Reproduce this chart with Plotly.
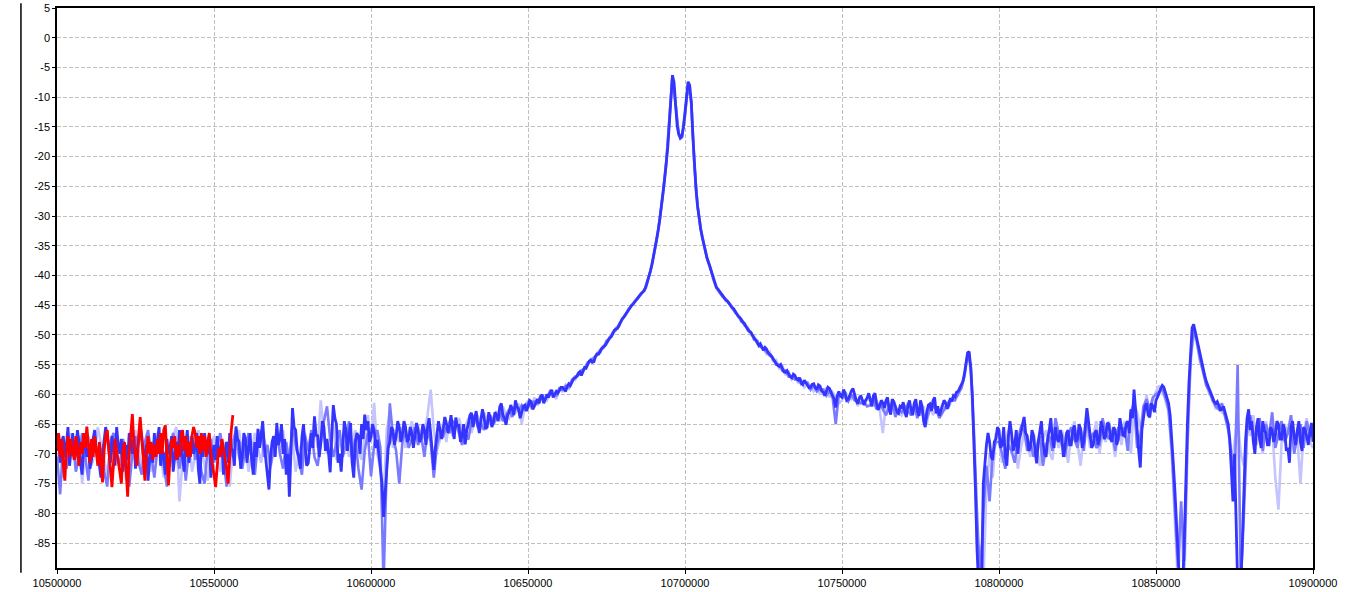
import plotly.graph_objects as go

# ---------------- data ----------------
F_START = 10500000
DARK_STEP = 500        # Hz between samples of the dark (latest) blue sweep
OLD_STEP = 1000        # Hz between samples of the older blue sweeps
RED_STEP = 500         # Hz between samples of the red sweep

x_ticks = [10500000, 10550000, 10600000, 10650000, 10700000,
           10750000, 10800000, 10850000, 10900000]
y_ticks = [5, 0, -5, -10, -15, -20, -25, -30, -35, -40, -45,
           -50, -55, -60, -65, -70, -75, -80, -85]

dark_db = [
    -69.0, -66.5, -71.5, -68.0, -67.0, -70.5, -68.5, -65.5, -72.0, -69.0, -66.5, -71.0, -70.0, -66.0, -68.0, -71.5, -73.5, -68.5, -67.5, -70.5,
    -69.0, -72.5, -71.0, -67.5, -66.0, -69.5, -70.5, -72.0, -74.0, -70.0, -68.0, -65.5, -67.0, -69.5, -71.5, -67.0, -69.0, -72.0, -65.5, -68.5,
    -70.0, -67.5, -73.0, -70.5, -68.5, -71.0, -66.5, -68.0, -70.0, -67.0, -72.5, -69.5, -68.0, -65.5, -67.0, -70.0, -71.0, -68.5, -74.5, -71.0,
    -69.0, -71.5, -66.5, -70.0, -68.0, -65.5, -72.0, -69.5, -70.0, -73.5, -67.5, -70.0, -69.5, -67.0, -73.0, -70.5, -68.0, -71.0, -66.0, -68.5,
    -70.5, -73.0, -68.5, -66.0, -71.5, -69.0, -67.0, -70.0, -69.0, -66.5, -72.5, -75.0, -68.0, -70.5, -66.5, -69.0, -70.0, -67.5, -74.0, -70.5,
    -68.5, -71.0, -67.0, -69.5, -70.5, -67.5, -73.5, -70.0, -68.0, -71.5, -66.5, -69.0, -69.5, -72.0, -65.4, -67.5, -68.0, -72.5, -70.5, -66.5,
    -67.5, -71.5, -69.3, -66.5, -71.0, -73.5, -68.0, -70.5, -65.8, -69.0, -67.0, -64.5, -68.4, -71.0, -74.0, -76.0, -70.5, -68.0, -67.0, -70.5,
    -64.8, -68.5, -67.5, -65.0, -70.0, -67.5, -73.5, -70.0, -77.2, -70.0, -62.3, -65.5, -66.0, -69.5, -70.5, -72.5, -67.2, -65.0, -69.0, -72.0,
    -71.6, -68.5, -66.5, -69.0, -63.7, -67.0, -66.8, -70.5, -68.2, -64.5, -65.4, -69.5, -67.5, -70.0, -73.1, -67.0, -61.8, -64.0, -65.0, -71.5,
    -70.0, -73.0, -68.8, -64.5, -66.0, -69.5, -67.0, -64.8, -71.5, -74.0, -68.0, -66.5, -67.0, -70.0, -65.0, -67.5, -63.4, -66.0, -64.5, -68.0,
    -67.1, -65.0, -66.0, -69.0, -67.6, -70.0, -71.5, -75.0, -80.6, -76.0, -71.5, -69.0, -68.0, -65.5, -66.0, -68.5, -67.0, -64.5, -65.5, -68.0,
    -66.8, -64.5, -65.5, -68.0, -67.6, -65.5, -66.5, -69.0, -67.0, -64.8, -66.0, -68.0, -67.2, -65.0, -66.0, -68.5, -65.5, -64.0, -66.5, -69.0,
    -72.7, -69.0, -67.0, -64.5, -66.0, -67.5, -65.8, -63.8, -64.8, -66.5, -65.1, -63.5, -66.0, -67.5, -63.9, -65.5, -65.0, -68.0, -67.0, -65.0,
    -68.4, -66.0, -65.0, -63.5, -63.1, -65.5, -64.0, -62.8, -65.0, -66.5, -64.2, -62.5, -63.9, -65.8, -65.5, -63.0, -64.0, -65.5, -64.6, -63.0,
    -63.5, -64.5, -62.1, -61.5, -63.5, -64.0, -65.1, -63.5, -63.0, -61.8, -62.5, -63.5, -61.0, -62.0, -62.5, -64.0, -63.0, -62.0, -61.8, -62.8,
    -62.1, -61.0, -61.2, -62.5, -62.0, -61.2, -60.8, -61.5, -60.5, -60.0, -61.5, -60.8, -60.0, -60.5, -59.7, -59.2, -60.5, -60.0, -59.5, -59.8,
    -59.4, -58.8, -58.8, -59.2, -59.5, -58.6, -58.2, -58.5, -58.0, -57.4, -57.2, -57.0, -56.5, -56.2, -56.8, -56.0, -55.5, -55.6, -55.0, -54.4,
    -54.2, -54.6, -54.5, -53.6, -53.2, -53.2, -52.8, -52.2, -52.0, -51.8, -51.4, -50.8, -50.5, -50.3, -49.8, -49.2, -49.0, -48.9, -48.4, -47.8,
    -47.3, -47.0, -46.6, -46.1, -45.8, -45.3, -45.0, -44.8, -44.4, -44.0, -43.8, -43.4, -43.1, -42.8, -42.5, -42.0, -41.2, -40.3, -39.2, -38.1,
    -36.8, -35.4, -33.9, -32.3, -30.4, -28.5, -26.2, -23.8, -21.2, -18.5, -14.5, -10.5, -6.3, -7.5, -11.2, -14.8, -16.2, -16.9, -16.6, -15.0,
    -12.5, -9.8, -7.4, -8.0, -10.8, -16.5, -21.5, -25.5, -28.3, -30.5, -32.2, -33.6, -34.8, -36.0, -37.0, -37.8, -38.6, -39.6, -40.5, -41.3,
    -42.0, -42.3, -42.7, -43.0, -43.4, -43.8, -44.1, -44.3, -44.6, -45.0, -45.4, -45.6, -46.0, -46.5, -46.9, -47.1, -47.5, -47.9, -48.2, -48.5,
    -48.9, -49.4, -49.6, -50.1, -50.5, -50.8, -51.2, -51.8, -51.5, -52.1, -52.6, -52.1, -52.4, -53.0, -53.2, -53.5, -54.0, -54.4, -54.6, -55.1,
    -55.3, -55.0, -55.6, -56.2, -56.3, -56.0, -56.5, -57.0, -57.2, -56.6, -56.8, -57.4, -57.6, -57.2, -58.0, -58.3, -57.6, -58.0, -58.4, -58.9,
    -58.8, -58.3, -58.2, -58.9, -59.2, -58.4, -58.6, -59.4, -59.6, -60.2, -59.5, -58.8, -59.0, -59.6, -60.0, -60.8, -62.2, -60.2, -59.5, -60.3,
    -60.5, -59.2, -59.8, -61.0, -60.8, -60.0, -59.4, -59.0, -60.2, -61.0, -61.6, -60.6, -60.2, -61.0, -61.8, -61.0, -60.6, -59.8, -61.2, -62.0,
    -60.2, -59.8, -61.5, -62.6, -62.0, -61.0, -61.4, -62.3, -61.0, -60.5, -62.5, -63.4, -60.8, -61.2, -62.0, -63.0, -63.2, -62.0, -62.2, -61.3,
    -63.0, -63.8, -61.8, -61.0, -62.6, -63.5, -61.5, -60.8, -62.8, -63.6, -61.0, -62.0, -64.5, -65.5, -63.0, -61.8, -61.6, -62.8, -61.0, -60.5,
    -63.2, -62.0, -63.6, -62.8, -62.0, -61.0, -61.4, -62.4, -61.8, -60.6, -61.2, -60.2, -60.4, -59.6, -59.5, -59.0, -58.5, -57.8, -56.5, -54.8,
    -53.0, -52.8, -55.5, -60.0, -67.0, -76.0, -86.0, -92.0, -92.0, -92.0, -75.0, -71.0, -68.5, -66.5, -68.0, -70.5, -71.0, -68.0, -67.5, -65.5,
    -66.0, -69.0, -68.5, -65.5, -70.5, -72.0, -67.0, -64.5, -66.5, -69.5, -68.5, -66.0, -70.0, -67.5, -66.5, -65.0, -63.8, -66.5, -67.0, -69.5,
    -69.0, -66.0, -67.0, -69.5, -71.6, -68.0, -66.5, -64.5, -68.0, -70.0, -70.5, -67.5, -66.0, -64.0, -67.5, -69.0, -65.5, -67.5, -68.0, -66.0,
    -67.0, -70.5, -69.0, -66.5, -66.0, -68.5, -68.5, -66.0, -65.2, -68.0, -67.5, -65.0, -66.0, -69.0, -68.0, -65.0, -62.3, -64.5, -66.5, -69.0,
    -68.5, -66.5, -66.0, -68.5, -67.5, -64.5, -65.5, -67.5, -67.0, -64.8, -65.0, -67.5, -68.0, -65.5, -66.0, -68.5, -67.5, -64.0, -65.5, -66.8,
    -67.0, -65.0, -64.5, -66.5, -62.5, -64.0, -59.2, -62.0, -66.0, -69.5, -72.3, -66.0, -63.5, -62.0, -61.5, -63.5, -63.8, -61.5, -62.0, -63.0,
    -61.0, -60.5, -59.8, -59.0, -58.5, -58.8, -59.6, -60.5, -61.5, -63.5, -67.0, -71.5, -76.0, -81.0, -86.0, -92.0, -92.0, -92.0, -85.0, -74.0,
    -65.0, -58.0, -52.0, -48.8, -48.2, -49.5, -50.8, -52.2, -53.5, -54.8, -55.8, -56.8, -57.8, -58.4, -59.0, -59.8, -60.5, -61.2, -61.5, -61.2,
    -61.8, -62.6, -62.5, -62.0, -63.0, -64.0, -65.0, -67.5, -74.0, -78.0, -70.0, -80.0, -92.0, -92.0, -92.0, -85.0, -76.0, -68.0, -64.0, -62.5,
    -66.0, -64.5, -68.0, -70.0, -65.5, -64.0, -67.5, -69.0, -64.5, -66.0, -66.5, -68.5, -68.5, -65.5, -66.0, -68.0, -67.0, -64.5, -65.0, -67.5,
    -67.5, -65.0, -66.0, -69.5, -69.0, -71.5, -65.5, -64.5, -67.0, -68.5, -66.0, -64.5, -68.0, -69.5, -65.5, -66.0, -67.0, -68.5, -66.5, -64.8,
    -68.0,
]

medium_db = [
    -70.5, -76.8, -68.0, -72.5, -69.0, -67.5, -73.0, -70.5, -66.5, -71.0,
    -74.5, -68.5, -67.0, -71.5, -69.0, -73.0, -75.5, -68.0, -66.5, -70.0,
    -72.0, -67.5, -69.5, -75.5, -70.0, -67.0, -71.5, -73.5, -68.0, -66.0,
    -70.5, -74.0, -69.0, -67.5, -72.0, -75.5, -68.5, -66.5, -70.0, -72.5,
    -68.0, -74.5, -69.5, -67.0, -71.0, -68.5, -73.0, -75.0, -69.0, -67.5,
    -71.5, -69.0, -66.5, -70.5, -75.5, -71.0, -68.0, -66.0, -70.5, -72.5,
    -69.0, -66.5, -71.0, -73.5, -68.0, -66.0, -70.5, -68.5, -72.0, -69.5,
    -66.0, -70.0, -72.5, -68.0, -71.5, -65.0, -68.5, -71.0, -73.5, -67.0,
    -69.5, -66.0, -70.5, -72.0, -68.0, -64.5, -62.0, -67.5, -70.5, -68.0,
    -66.0, -70.5, -68.5, -64.5, -71.0, -67.5, -72.5, -76.0, -69.5, -66.5,
    -73.8, -68.5, -66.0, -69.0, -92.0, -72.0, -61.5, -67.0, -69.5, -75.0,
    -68.0, -66.0, -69.0, -67.5, -65.5, -68.5, -67.0, -70.5, -66.0, -68.0,
    -74.0, -68.5, -66.5, -67.0, -65.5, -66.5, -64.5, -65.0, -66.5, -68.5,
    -66.5, -67.6, -64.5, -63.5, -65.5, -64.8, -66.0, -64.5, -63.5, -65.0,
    -64.0, -63.0, -64.5, -63.5, -62.5, -63.8, -62.0, -62.8, -61.8, -62.5,
    -61.5, -62.0, -61.2, -61.5, -60.2, -61.0, -60.5, -59.5, -60.0, -60.2,
    -59.0, -59.2, -58.6, -58.8, -57.6, -57.0, -56.8, -56.0, -55.6, -54.6,
    -54.5, -53.8, -53.4, -52.5, -52.2, -51.0, -50.6, -49.6, -49.2, -48.2,
    -47.4, -46.5, -45.9, -45.1, -44.3, -43.9, -43.0, -42.6, -41.1, -39.3,
    -36.7, -34.0, -30.3, -26.3, -21.1, -14.3, -6.5, -11.3, -16.1, -16.8,
    -13.1, -7.6, -10.9, -21.4, -28.4, -32.1, -34.9, -37.1, -38.5, -40.6,
    -42.1, -42.8, -43.6, -44.0, -44.8, -45.6, -46.2, -46.8, -47.8, -48.0,
    -49.2, -49.5, -50.8, -51.0, -52.0, -52.3, -53.0, -53.5, -53.8, -55.0,
    -55.0, -56.0, -56.0, -57.0, -57.0, -57.5, -57.3, -58.3, -58.0, -58.0,
    -59.2, -58.5, -59.5, -59.0, -59.2, -60.2, -59.4, -60.5, -65.0, -60.0,
    -60.0, -60.5, -61.2, -60.0, -61.0, -61.0, -61.5, -61.2, -62.0, -61.8,
    -60.8, -62.5, -61.5, -62.5, -63.5, -62.0, -61.5, -63.8, -62.5, -63.0,
    -62.0, -62.8, -63.5, -62.0, -64.0, -62.5, -63.5, -64.0, -62.5, -62.0,
    -62.5, -64.0, -63.0, -62.0, -61.2, -60.8, -61.0, -59.8, -59.0, -57.0,
    -53.2, -55.0, -66.0, -80.0, -92.0, -80.0, -72.0, -78.0, -70.0, -68.0,
    -68.0, -70.0, -72.5, -68.5, -69.5, -71.5, -67.5, -65.5, -66.0, -69.5,
    -68.0, -70.5, -69.0, -67.0, -72.0, -68.5, -67.0, -69.5, -64.0, -66.5,
    -68.5, -70.5, -67.0, -65.5, -67.5, -69.0, -65.5, -69.5, -64.0, -67.5,
    -66.5, -69.0, -68.5, -64.0, -66.5, -67.5, -66.0, -69.5, -65.5, -67.0,
    -65.5, -69.5, -63.0, -61.5, -69.0, -67.0, -62.0, -60.8, -62.5, -60.5,
    -60.0, -59.5, -59.0, -60.5, -62.5, -69.0, -78.5, -89.0, -78.0, -88.0,
    -68.0, -54.0, -49.0, -51.0, -54.0, -56.5, -58.5, -59.5, -61.0, -62.0,
    -62.5, -61.5, -64.0, -66.0, -70.0, -76.0, -55.0, -92.0, -80.0, -66.0,
    -63.5, -66.5, -67.0, -64.0, -69.5, -65.0, -67.0, -63.0, -69.0, -66.5,
    -64.5, -68.0, -66.5, -63.5, -70.0, -67.0, -65.0, -69.0, -64.5, -67.0,
    -66.5,
]

light_db = [
    -72.0, -68.5, -74.0, -70.0, -66.5, -69.0, -71.5, -67.0, -75.0, -69.5,
    -67.0, -72.0, -70.0, -65.5, -68.5, -71.0, -73.5, -69.0, -72.5, -67.5,
    -69.0, -70.5, -74.5, -68.0, -71.0, -66.0, -69.5, -72.0, -70.0, -67.5,
    -73.0, -68.5, -66.5, -70.0, -74.0, -69.0, -71.5, -67.0, -65.5, -78.0,
    -71.0, -69.5, -67.0, -73.0, -70.5, -66.0, -68.5, -72.0, -74.5, -69.0,
    -67.0, -70.5, -73.0, -68.0, -71.5, -75.5, -69.5, -67.0, -66.0, -71.0,
    -68.5, -73.0, -70.0, -66.5, -69.0, -71.5, -67.5, -70.0, -72.5, -68.0,
    -67.0, -69.5, -66.0, -71.0, -69.5, -67.5, -73.0, -70.0, -68.0, -66.5,
    -70.5, -68.0, -64.0, -69.0, -61.0, -66.5, -70.0, -68.5, -65.0, -71.0,
    -67.5, -69.0, -65.5, -70.5, -68.0, -66.0, -69.5, -71.0, -67.0, -63.5,
    -68.0, -61.4, -70.0, -72.5, -78.0, -66.0, -63.0, -69.0, -66.5, -68.0,
    -65.5, -69.0, -66.5, -64.5, -67.5, -65.0, -68.0, -66.5, -63.5, -59.2,
    -66.0, -69.5, -67.5, -65.0, -68.0, -64.5, -67.0, -65.5, -64.0, -66.0,
    -65.5, -64.0, -66.5, -64.5, -63.5, -66.0, -63.0, -64.5, -65.0, -63.8,
    -62.8, -64.5, -62.0, -63.5, -64.0, -62.0, -63.2, -61.5, -65.0, -62.0,
    -61.0, -62.5, -60.5, -61.8, -61.0, -60.4, -61.0, -60.0, -59.5, -60.8,
    -58.8, -59.6, -58.4, -59.0, -57.5, -57.6, -56.3, -56.4, -55.8, -54.8,
    -54.0, -54.2, -53.0, -53.0, -51.8, -51.6, -50.3, -50.0, -48.8, -48.6,
    -47.2, -46.8, -45.6, -45.2, -44.3, -43.7, -43.2, -42.4, -41.3, -39.1,
    -36.9, -33.8, -30.5, -26.1, -21.3, -14.1, -6.4, -11.1, -16.3, -17.0,
    -12.9, -7.5, -10.7, -21.6, -28.2, -32.3, -34.7, -37.2, -38.7, -40.4,
    -41.9, -42.9, -43.3, -44.3, -44.5, -45.2, -46.3, -46.7, -47.3, -48.5,
    -48.7, -50.0, -50.2, -51.5, -51.8, -52.2, -53.2, -52.8, -54.4, -54.2,
    -55.6, -55.2, -56.6, -56.2, -57.5, -57.0, -58.0, -57.6, -58.8, -58.2,
    -58.5, -59.5, -58.8, -60.0, -59.2, -59.0, -60.5, -59.6, -60.5, -61.5,
    -61.0, -59.6, -60.5, -60.8, -59.8, -62.0, -60.6, -61.2, -61.0, -60.8,
    -62.0, -61.0, -62.5, -66.5, -61.5, -62.0, -61.2, -62.5, -62.8, -63.5,
    -62.5, -61.5, -63.0, -61.8, -62.5, -63.5, -62.0, -65.0, -61.8, -63.5,
    -62.0, -63.2, -61.5, -62.5, -62.2, -60.8, -60.0, -60.2, -58.8, -56.8,
    -53.0, -56.0, -68.0, -85.0, -86.0, -92.0, -76.0, -70.0, -74.0, -66.5,
    -67.5, -71.5, -68.0, -66.0, -70.0, -67.5, -72.5, -69.0, -66.5, -68.5,
    -70.5, -66.5, -69.0, -72.0, -67.5, -66.0, -69.5, -71.0, -66.5, -69.0,
    -66.0, -68.0, -71.5, -67.0, -64.5, -68.5, -72.0, -66.5, -65.5, -69.0,
    -67.0, -64.5, -70.0, -66.5, -68.0, -64.5, -67.0, -70.5, -66.0, -68.5,
    -64.5, -66.5, -70.0, -61.5, -63.0, -65.5, -63.5, -60.0, -64.0, -61.0,
    -59.5, -58.5, -59.5, -61.0, -63.0, -70.0, -80.0, -92.0, -80.0, -92.0,
    -70.0, -55.0, -49.5, -51.5, -54.5, -56.0, -58.0, -60.0, -60.5, -62.5,
    -61.5, -63.0, -63.5, -65.0, -72.0, -68.0, -64.0, -70.0, -72.0, -65.0,
    -67.0, -63.5, -68.5, -66.0, -70.0, -64.5, -67.5, -65.5, -74.0, -79.4,
    -68.0, -65.0, -66.5, -63.5, -69.5, -67.0, -75.0, -66.5, -64.0, -68.0,
    -69.0,
]

red_db = [
    -69.5, -66.5, -70.5, -67.5, -72.0, -74.5, -69.0, -67.0, -70.5, -67.5,
    -69.5, -71.0, -67.0, -69.5, -72.0, -68.0, -70.0, -66.5, -69.0, -65.4,
    -68.5, -71.5, -67.5, -70.5, -67.0, -70.0, -72.0, -68.0, -71.0, -74.8,
    -69.5, -67.0, -66.0, -70.0, -72.5, -75.6, -70.5, -67.5, -69.5, -71.0,
    -73.0, -75.0, -69.5, -68.0, -72.5, -77.2, -70.0, -66.5, -63.3, -68.5,
    -70.5, -72.0, -67.0, -63.8, -67.5, -71.0, -74.5, -69.5, -67.0, -70.0,
    -68.0, -71.0, -68.5, -70.5, -67.5, -70.0, -66.5, -70.0, -66.0, -65.2,
    -70.0, -75.3, -70.5, -67.5, -69.0, -67.0, -71.0, -68.5, -70.5, -67.0,
    -66.0, -69.5, -67.0, -70.5, -68.0, -70.5, -67.0, -65.5, -66.5, -69.0,
    -67.0, -70.0, -66.5, -69.5, -67.0, -70.5, -68.0, -66.5, -70.0, -71.5,
    -73.5, -75.6, -71.5, -69.0, -70.5, -67.5, -69.0, -70.5, -72.5, -75.0,
    -69.5, -66.0, -63.5,
]

freq_dark = [F_START + DARK_STEP * k for k in range(len(dark_db))]
freq_old = [F_START + OLD_STEP * k for k in range(len(medium_db))]
freq_red = [F_START + RED_STEP * k for k in range(len(red_db))]

# ---------------- figure ----------------
fig = go.Figure()
fig.add_trace(go.Scatter(x=freq_old, y=light_db, mode="lines",
                         line=dict(color="#c4c4ff", width=2.6), hoverinfo="skip"))
fig.add_trace(go.Scatter(x=freq_old, y=medium_db, mode="lines",
                         line=dict(color="#7a7aff", width=2.6), hoverinfo="skip"))
fig.add_trace(go.Scatter(x=freq_dark, y=dark_db, mode="lines",
                         line=dict(color="#3434ff", width=2.8), hoverinfo="skip"))
fig.add_trace(go.Scatter(x=freq_red, y=red_db, mode="lines",
                         line=dict(color="#ff0000", width=2.8), hoverinfo="skip"))

axis_font = dict(family="Liberation Sans, Arial, sans-serif", size=11, color="#000000")

fig.update_layout(
    width=1350, height=592,
    margin=dict(l=57, r=37, t=8, b=24, autoexpand=False),
    paper_bgcolor="white", plot_bgcolor="white",
    showlegend=False,
    xaxis=dict(
        range=[10500000, 10900000], tickvals=x_ticks,
        ticktext=[str(v) for v in x_ticks], automargin=False,
        showline=True, linecolor="black", linewidth=1.5, mirror=True,
        ticks="outside", ticklen=4, tickcolor="black", tickwidth=1,
        showgrid=True, gridcolor="#c0c0c0", griddash="4px,2px", gridwidth=1,
        zeroline=False, tickfont=axis_font,
    ),
    yaxis=dict(
        range=[-89.2, 5], tickvals=y_ticks,
        ticktext=[str(v) for v in y_ticks], automargin=False,
        showline=True, linecolor="black", linewidth=1.5, mirror=True,
        ticks="outside", ticklen=3, tickcolor="black", tickwidth=1,
        showgrid=True, gridcolor="#c0c0c0", griddash="4px,2px", gridwidth=1,
        zeroline=False, tickfont=axis_font,
    ),
    shapes=[dict(type="line", xref="paper", yref="paper",
                 x0=-0.0287, x1=-0.0287, y0=-0.0084, y1=1.0086,
                 line=dict(color="black", width=1.5))],
)

fig.write_html(
    "out.html",
    config={"displayModeBar": False},
    post_script="document.body.style.margin='0px';document.body.style.overflow='hidden';",
)
